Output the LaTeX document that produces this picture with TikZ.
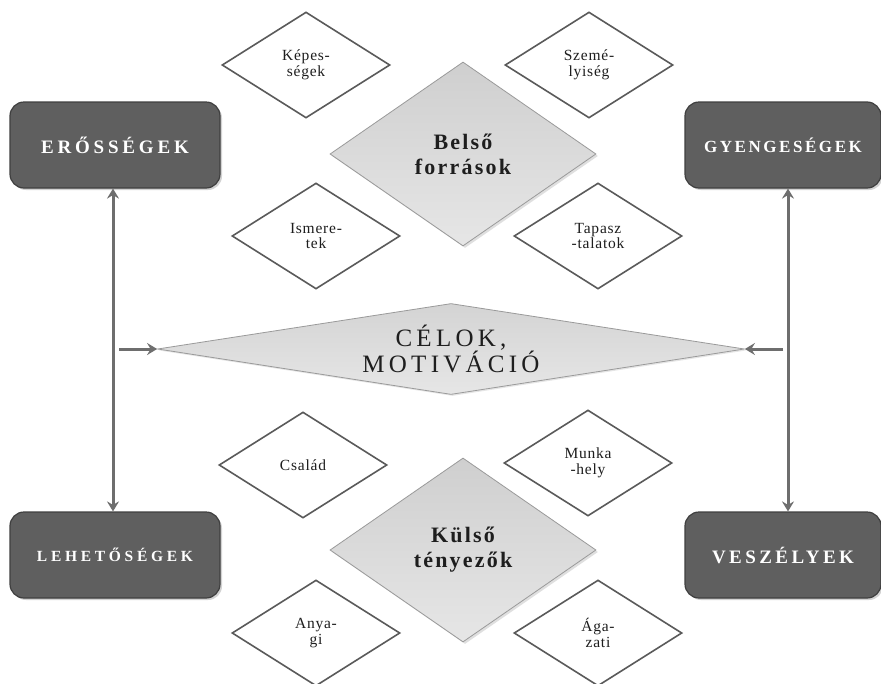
\documentclass[tikz,border=0pt]{standalone}
\usepackage{fontspec}
\setmainfont{Liberation Serif}
\usetikzlibrary{shapes.geometric,shadows,arrows.meta}
\definecolor{boxfill}{HTML}{5F5F5F}
\definecolor{boxline}{HTML}{3F3F3F}
\definecolor{arrgray}{HTML}{6E6E6E}
\definecolor{dline}{HTML}{5A5A5A}
\definecolor{bline}{HTML}{9A9A9A}
\definecolor{gtop}{HTML}{CFCFCF}
\definecolor{gbot}{HTML}{E6E6E6}
\definecolor{dtext}{HTML}{1E1E1E}
\tikzset{
  sbox/.style={rectangle, rounded corners=14pt, draw=boxline, fill=boxfill,
    line width=1.2pt, minimum width=210pt, minimum height=86pt, text=white,
    inner sep=0pt, drop shadow={opacity=0.35, shadow xshift=2pt, shadow yshift=-2pt}},
  smalld/.style={diamond, draw=dline, line width=1.6pt, fill=white, aspect=1.58,
    minimum width=168pt, minimum height=106pt, inner sep=0pt, align=center, text=dtext,
    font=\fontsize{15.5}{15.5}\selectfont\addfontfeature{LetterSpace=5}},
  bigd/.style={diamond, draw=bline, line width=0.8pt, top color=gtop, bottom color=gbot,
    aspect=1.45, minimum width=266pt, minimum height=184pt, inner sep=0pt, align=center,
    drop shadow={opacity=0.25, shadow xshift=2pt, shadow yshift=-2pt}, text=dtext,
    font=\bfseries\fontsize{22}{25}\selectfont\addfontfeature{LetterSpace=10}},
  arr/.style={draw=arrgray, line width=3pt},
  tip/.tip={Stealth[length=10pt,width=12pt,inset=3.5pt]}
}
\begin{document}
\begin{tikzpicture}[x=1pt,y=-1pt]
\useasboundingbox (0,0) rectangle (881,683);
\fill[white] (0,0) rectangle (881,683);

% small diamonds
\node[smalld] (kep) at (306,65) {Képes-\\ségek};
\node[smalld] (sze) at (589,65) {Szemé-\\lyiség};
\node[smalld] (ism) at (316,236) {Ismere-\\tek};
\node[smalld] (tap) at (598,236) {Tapasz\\-talatok};
\node[smalld] (csa) at (303,465) {Család};
\node[smalld] (mun) at (588,463) {Munka\\-hely};
\node[smalld] (any) at (316,633) {Anya-\\gi};
\node[smalld] (aga) at (598,633) {Ága-\\zati};

% big diamonds
\node[bigd] (bel) at (463,154) {Belső\\források};
\node[bigd] (kul) at (463,550) {Külső\\tényezők};

% centre diamond
\node[diamond, aspect=6.45, draw=bline, line width=0.8pt, top color=gtop!90!white, bottom color=gbot,
  minimum width=587pt, minimum height=91pt, inner sep=0pt, align=center, text=dtext,
  drop shadow={opacity=0.2, shadow xshift=1.5pt, shadow yshift=-1.5pt},
  font=\fontsize{25}{26}\selectfont\addfontfeature{LetterSpace=17}]
  (cel) at (451,349) {CÉLOK,\\MOTIVÁCIÓ};

% corner boxes
\node[sbox, font=\bfseries\fontsize{19}{18}\selectfont\addfontfeature{LetterSpace=20}]
  (ero) at (115,145) {ERŐSSÉGEK};
\node[sbox, minimum width=196pt, font=\bfseries\fontsize{17}{18}\selectfont\addfontfeature{LetterSpace=15}]
  (gye) at (783,145) {GYENGESÉGEK};
\node[sbox, font=\bfseries\fontsize{15.5}{18}\selectfont\addfontfeature{LetterSpace=24}]
  (leh) at (115,555) {LEHETŐSÉGEK};
\node[sbox, minimum width=196pt, font=\bfseries\fontsize{19}{18}\selectfont\addfontfeature{LetterSpace=18}]
  (vesz) at (783,555) {VESZÉLYEK};

% arrows
\draw[arr, tip-tip] ([xshift=-2pt]ero.south) -- ([xshift=-2pt]leh.north);
\draw[arr, tip-tip] ([xshift=5pt]gye.south) -- ([xshift=5pt]vesz.north);
\coordinate (la) at (119,349);
\coordinate (ra) at (783,349);
\draw[arr, -tip] (la) -- (cel.west);
\draw[arr, -tip] (ra) -- (cel.east);
\end{tikzpicture}
\end{document}
